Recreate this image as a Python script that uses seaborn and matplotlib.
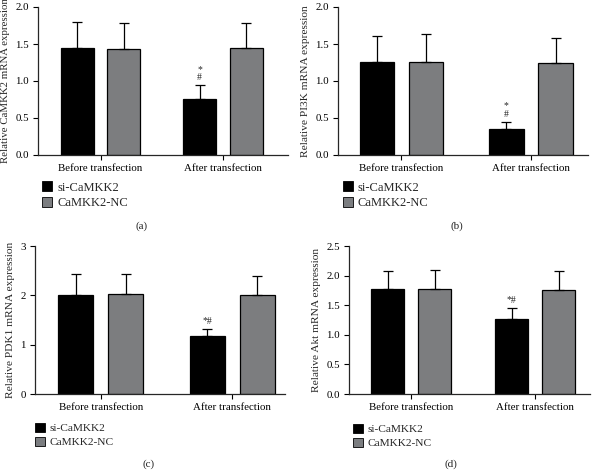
import pandas as pd
import matplotlib.pyplot as plt
import seaborn as sns
from matplotlib.patches import Patch

# Data (mean, upper SD)
times = ["Before transfection", "After transfection"]
groups = ["si-CaMKK2", "CaMKK2-NC"]
panel_letters = ["(a)", "(b)", "(c)", "(d)"]
genes = ["CaMKK2", "PI3K", "PDK1", "Akt"]

camkk2_si = [1.44, 0.75]
camkk2_si_err = [0.36, 0.19]
camkk2_nc = [1.43, 1.44]
camkk2_nc_err = [0.36, 0.35]

pi3k_si = [1.26, 0.35]
pi3k_si_err = [0.35, 0.10]
pi3k_nc = [1.26, 1.24]
pi3k_nc_err = [0.37, 0.34]

pdk1_si = [2.00, 1.18]
pdk1_si_err = [0.43, 0.14]
pdk1_nc = [2.02, 2.00]
pdk1_nc_err = [0.41, 0.40]

akt_si = [1.77, 1.26]
akt_si_err = [0.30, 0.20]
akt_nc = [1.77, 1.76]
akt_nc_err = [0.33, 0.31]

sig_marks = ["*\n#", "*\n#", "*#", "*#"]

panels = [
    (camkk2_si, camkk2_si_err, camkk2_nc, camkk2_nc_err),
    (pi3k_si, pi3k_si_err, pi3k_nc, pi3k_nc_err),
    (pdk1_si, pdk1_si_err, pdk1_nc, pdk1_nc_err),
    (akt_si, akt_si_err, akt_nc, akt_nc_err),
]

# layout / style
W, H = 600, 471
axes_px = [  # left, top, right, bottom in pixels
    (38, 7, 288, 155),
    (338, 7, 588, 155),
    (35, 246, 285, 394),
    (349, 246, 590, 394),
]
xlims = [(-0.51, 1.53), (-0.49, 1.44), (-0.50, 1.40), (-0.50, 1.44)]
ylims = [(0, 2.0), (0, 2.0), (0, 3.0), (0, 2.5)]
ysteps = [0.5, 0.5, 1.0, 0.5]
yfmt = ["{:.1f}", "{:.1f}", "{:.0f}", "{:.1f}"]
letter_pos = [(142, 226), (457, 226), (149, 464), (451, 464)]
legend_dx = [4, 5, 0, 4]          # px from axis left to legend square
legend_dy = [40.5, 40.5, 41, 42]  # px from axis bottom to legend middle
legend_fs = [9, 9, 8.2, 8.2]
ylabel_fs = [7.8, 8.2, 8.2, 8.2]
palette = {"si-CaMKK2": "#000000", "CaMKK2-NC": "#7b7d80"}

sns.set_style("ticks")
plt.rcParams["font.family"] = ["Liberation Serif", "DejaVu Serif"]
plt.rcParams["font.size"] = 7.8

fig = plt.figure(figsize=(W / 100, H / 100), dpi=100)

for i, (si, si_err, nc, nc_err) in enumerate(panels):
    l, t, r, b = axes_px[i]
    ax = fig.add_axes([l / W, 1 - b / H, (r - l) / W, (b - t) / H])

    df = pd.DataFrame({
        "time": times * 2,
        "group": [groups[0]] * 2 + [groups[1]] * 2,
        "value": si + nc,
        "err": si_err + nc_err,
    })

    sns.barplot(data=df, x="time", y="value", hue="group", order=times,
                hue_order=groups, palette=palette, width=0.76, gap=0.3,
                edgecolor="black", linewidth=0.9, errorbar=None,
                legend=False, ax=ax)

    errs = [si_err, nc_err]
    vals = [si, nc]
    bar_conts = list(ax.containers)
    for g, cont in enumerate(bar_conts):
        for j, bar in enumerate(cont.patches):
            xc = bar.get_x() + bar.get_width() / 2
            ax.errorbar(xc, vals[g][j], yerr=[[0], [errs[g][j]]], fmt="none",
                        ecolor="black", elinewidth=0.9, capsize=3.6,
                        capthick=0.9)
            if g == 0 and j == 1:
                top = vals[g][j] + errs[g][j]
                ax.text(xc, top + 0.02 * ylims[i][1], sig_marks[i],
                        ha="center", va="bottom", fontsize=7,
                        linespacing=0.95)

    ax.set_xlim(*xlims[i])
    ax.set_ylim(*ylims[i])
    ticks = []
    v = ylims[i][0]
    while v <= ylims[i][1] + 1e-9:
        ticks.append(v)
        v += ysteps[i]
    ax.set_yticks(ticks)
    ax.set_yticklabels([yfmt[i].format(tv) for tv in ticks])
    ax.set_xlabel("")
    ax.set_ylabel(f"Relative {genes[i]} mRNA expression", labelpad=4,
                  fontsize=ylabel_fs[i])
    ax.tick_params(axis="both", length=3.5, width=0.8, pad=3,
                   labelsize=7.8, colors="black")
    for s in ["left", "bottom"]:
        ax.spines[s].set_linewidth(0.9)
    sns.despine(ax=ax)

    fs = legend_fs[i]
    handles = [Patch(facecolor=palette[g], edgecolor="black", linewidth=0.6)
               for g in groups]
    ax.legend(handles, groups, loc="center left",
              bbox_to_anchor=(legend_dx[i] / (r - l), -legend_dy[i] / (b - t)),
              frameon=False, fontsize=fs, handlelength=7.2 / fs,
              handleheight=7.2 / fs, handletextpad=3.6 / fs,
              labelspacing=0.3, borderaxespad=0, borderpad=0)

    lx, ly = letter_pos[i]
    fig.text(lx / W, 1 - ly / H, panel_letters[i], ha="center", va="center",
             fontsize=8)

fig.savefig("out.png", dpi=100)
